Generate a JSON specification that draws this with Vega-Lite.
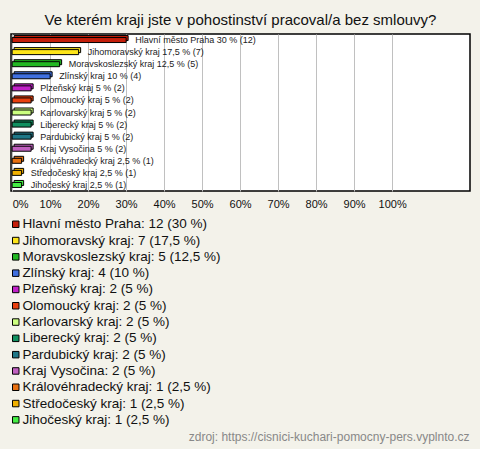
{
  "$schema": "https://vega.github.io/schema/vega-lite/v6.json",
  "autosize": {"type": "none"},
  "width": 459,
  "height": 157,
  "padding": {"left": 11, "top": 34, "right": 10, "bottom": 258},
  "background": "#f3f2ea",
  "title": {
    "text": "Ve kterém kraji jste v pohostinství pracoval/a bez smlouvy?",
    "font": "Liberation Sans",
    "fontSize": 15,
    "fontWeight": "normal",
    "color": "#111111",
    "anchor": "middle",
    "offset": 6
  },
  "data": {
    "values": [
      {"region": "Hlavní město Praha", "count": 12, "pct": 30, "label": "Hlavní město Praha 30 % (12)", "legend": "Hlavní město Praha: 12 (30 %)"},
      {"region": "Jihomoravský kraj", "count": 7, "pct": 17.5, "label": "Jihomoravský kraj 17,5 % (7)", "legend": "Jihomoravský kraj: 7 (17,5 %)"},
      {"region": "Moravskoslezský kraj", "count": 5, "pct": 12.5, "label": "Moravskoslezský kraj 12,5 % (5)", "legend": "Moravskoslezský kraj: 5 (12,5 %)"},
      {"region": "Zlínský kraj", "count": 4, "pct": 10, "label": "Zlínský kraj 10 % (4)", "legend": "Zlínský kraj: 4 (10 %)"},
      {"region": "Plzeňský kraj", "count": 2, "pct": 5, "label": "Plzeňský kraj 5 % (2)", "legend": "Plzeňský kraj: 2 (5 %)"},
      {"region": "Olomoucký kraj", "count": 2, "pct": 5, "label": "Olomoucký kraj 5 % (2)", "legend": "Olomoucký kraj: 2 (5 %)"},
      {"region": "Karlovarský kraj", "count": 2, "pct": 5, "label": "Karlovarský kraj 5 % (2)", "legend": "Karlovarský kraj: 2 (5 %)"},
      {"region": "Liberecký kraj", "count": 2, "pct": 5, "label": "Liberecký kraj 5 % (2)", "legend": "Liberecký kraj: 2 (5 %)"},
      {"region": "Pardubický kraj", "count": 2, "pct": 5, "label": "Pardubický kraj 5 % (2)", "legend": "Pardubický kraj: 2 (5 %)"},
      {"region": "Kraj Vysočina", "count": 2, "pct": 5, "label": "Kraj Vysočina 5 % (2)", "legend": "Kraj Vysočina: 2 (5 %)"},
      {"region": "Královéhradecký kraj", "count": 1, "pct": 2.5, "label": "Královéhradecký kraj 2,5 % (1)", "legend": "Královéhradecký kraj: 1 (2,5 %)"},
      {"region": "Středočeský kraj", "count": 1, "pct": 2.5, "label": "Středočeský kraj 2,5 % (1)", "legend": "Středočeský kraj: 1 (2,5 %)"},
      {"region": "Jihočeský kraj", "count": 1, "pct": 2.5, "label": "Jihočeský kraj 2,5 % (1)", "legend": "Jihočeský kraj: 1 (2,5 %)"}
    ]
  },
  "encoding": {
    "y": {
      "field": "region",
      "type": "nominal",
      "sort": null,
      "axis": null,
      "scale": {"paddingInner": 0, "paddingOuter": 0}
    },
    "x": {
      "field": "pct",
      "type": "quantitative",
      "scale": {"domain": [-0.3, 120.5], "nice": false, "zero": false},
      "axis": {
        "values": [0, 10, 20, 30, 40, 50, 60, 70, 80, 90, 100],
        "labelExpr": "datum.value + '%'",
        "grid": true,
        "gridColor": "#c0c0c0",
        "gridWidth": 1,
        "domain": false,
        "ticks": false,
        "labelFont": "Liberation Sans",
        "labelFontSize": 11,
        "labelColor": "#111111",
        "labelPadding": 7,
        "labelAlign": {"condition": {"test": "datum.value === 0", "value": "left"}, "value": "center"},
        "title": "zdroj: https://cisnici-kuchari-pomocny-pers.vyplnto.cz",
        "titleFont": "Liberation Sans",
        "titleFontSize": 12,
        "titleFontWeight": "normal",
        "titleColor": "#888888",
        "titleAnchor": "end",
        "titleAlign": "right",
        "titleBaseline": "middle",
        "titleX": 458,
        "titleY": 245
      }
    }
  },
  "layer": [
    {
      "mark": {"type": "bar", "height": 5, "xOffset": 2, "yOffset": -2, "stroke": "#000000", "strokeWidth": 1},
      "encoding": {
        "color": {
          "field": "legend",
          "type": "nominal",
          "sort": null,
          "scale": {
            "domain": ["Hlavní město Praha: 12 (30 %)", "Jihomoravský kraj: 7 (17,5 %)", "Moravskoslezský kraj: 5 (12,5 %)", "Zlínský kraj: 4 (10 %)", "Plzeňský kraj: 2 (5 %)", "Olomoucký kraj: 2 (5 %)", "Karlovarský kraj: 2 (5 %)", "Liberecký kraj: 2 (5 %)", "Pardubický kraj: 2 (5 %)", "Kraj Vysočina: 2 (5 %)", "Královéhradecký kraj: 1 (2,5 %)", "Středočeský kraj: 1 (2,5 %)", "Jihočeský kraj: 1 (2,5 %)"],
            "range": ["#c41e0a", "#fde51a", "#22b822", "#4070e0", "#c020c8", "#e8400f", "#ccff80", "#109060", "#207888", "#c060c0", "#e87010", "#f0b000", "#44ee44"]
          },
          "legend": {
            "orient": "none",
            "legendX": -2,
            "legendY": 183.5,
            "direction": "vertical",
            "title": null,
            "padding": 0,
            "symbolType": "square",
            "symbolSize": 42,
            "symbolStrokeColor": "#000000",
            "symbolStrokeWidth": 1,
            "symbolOpacity": 1,
            "labelFont": "Liberation Sans",
            "labelFontSize": 13.5,
            "labelColor": "#111111",
            "labelLimit": 400,
            "labelOffset": 0,
            "rowPadding": 1.3
          }
        }
      }
    },
    {
      "mark": {"type": "bar", "height": 5, "stroke": "#000000", "strokeWidth": 1},
      "encoding": {
        "color": {"field": "legend", "type": "nominal", "sort": null}
      }
    },
    {
      "mark": {"type": "text", "align": "left", "baseline": "middle", "dx": 9, "font": "Liberation Sans", "fontSize": 9, "color": "#222222"},
      "encoding": {
        "text": {"field": "label"}
      }
    }
  ],
  "config": {
    "view": {"fill": "#ffffff", "stroke": "#000000", "strokeWidth": 1.5}
  }
}
